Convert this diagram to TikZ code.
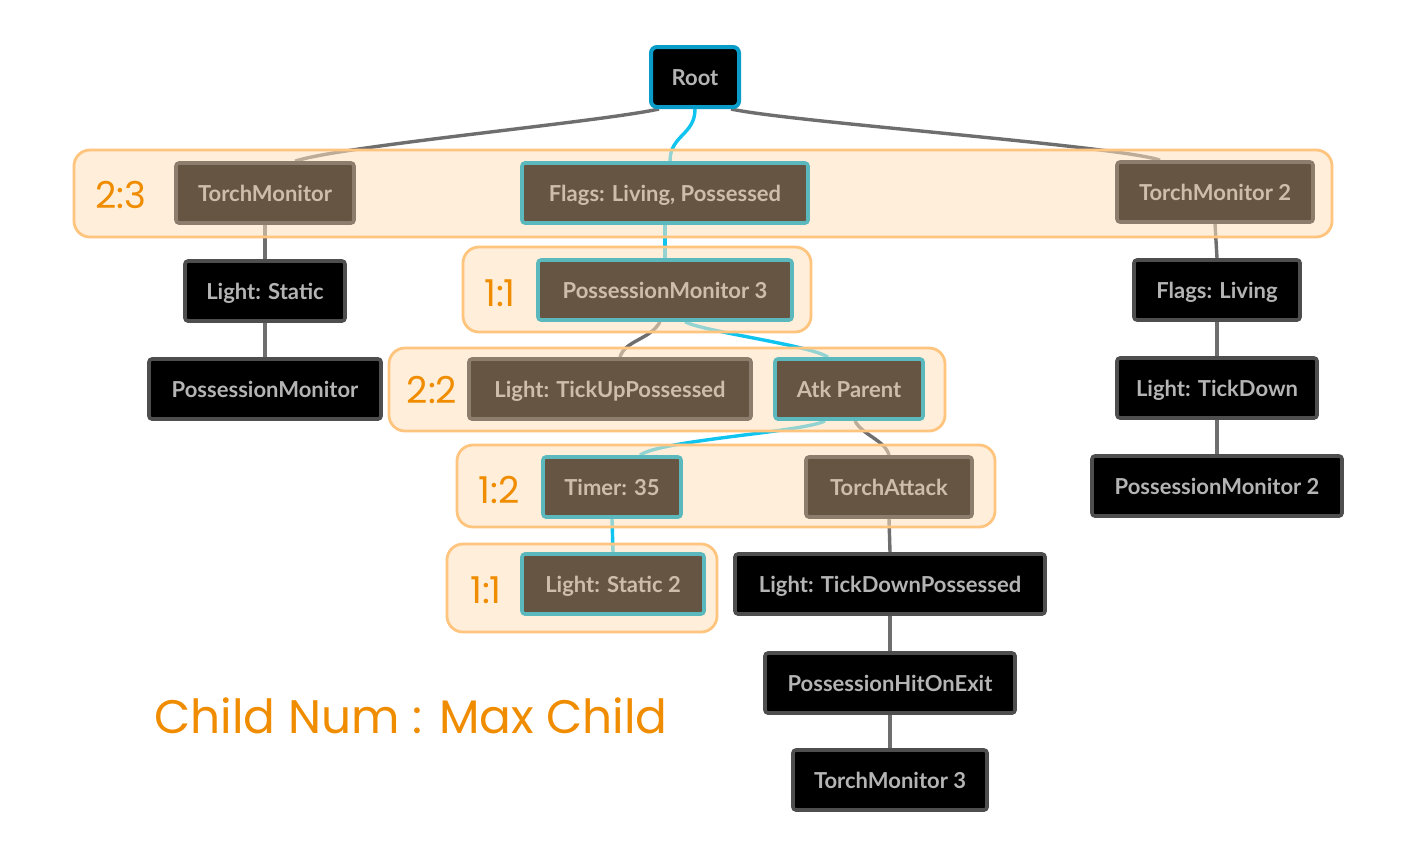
\documentclass[tikz,border=0pt]{standalone}
\usepackage{fontspec}
\setmainfont{Lato}
\newfontfamily\handfont{Poppins}
\usetikzlibrary{calc}
\definecolor{nbrown}{HTML}{665542}
\definecolor{nbrowntxt}{HTML}{CDBDAA}
\definecolor{nbrownedge}{HTML}{8C7D6C}
\definecolor{nteal}{HTML}{5BB9BE}
\definecolor{nroot}{HTML}{0A9CC8}
\definecolor{nblackedge}{HTML}{4E4E4E}
\definecolor{nblacktxt}{HTML}{B4B4B4}
\definecolor{lcyan}{HTML}{10C4F0}
\definecolor{lgray}{HTML}{6E6E6E}
\definecolor{gfill}{HTML}{FFE2BC}
\definecolor{gedge}{HTML}{FFC47E}
\definecolor{gtext}{HTML}{F08C00}
\pgfdeclarelayer{bglayer}
\pgfdeclarelayer{connlayer}
\pgfdeclarelayer{grplayer}
\pgfsetlayers{bglayer,connlayer,grplayer,main}
\tikzset{
  nodebase/.style={rectangle, rounded corners=1.5pt, line width=1.8pt, font=\bfseries\fontsize{11}{13}\selectfont, inner sep=0pt, minimum height=30pt, text height=10pt, text depth=2pt},
  brownbox/.style={nodebase, fill=nbrown, draw=nbrownedge, text=nbrowntxt},
  tealbox/.style={nodebase, fill=nbrown, draw=nteal, text=nbrowntxt},
  blackbox/.style={nodebase, fill=black, draw=nblackedge, text=nblacktxt},
  rootbox/.style={nodebase, fill=black, draw=nroot, text=nblacktxt, line width=2pt, rounded corners=3pt},
  grp/.style={rounded corners=8pt, fill=gfill, draw=gedge, line width=1.4pt, fill opacity=0.55},
  glabel/.style={text=gtext, font=\handfont\fontsize{18.5}{20}\selectfont},
  cl/.style={draw=lcyan, line width=1.7pt},
  gl/.style={draw=lgray, line width=1.7pt},
}
\begin{document}
\begin{tikzpicture}[x=0.5pt, y=-0.5pt]
\begin{pgfonlayer}{bglayer}
\fill[white] (0,0) rectangle (1427,864);
\end{pgfonlayer}
\useasboundingbox (0,0) rectangle (1427,864);
% nodes
\node[rootbox, minimum width=44pt] (root) at (695,77) {Root};
\node[brownbox, minimum width=89pt] (tm) at (265,193) {TorchMonitor};
\node[tealbox, minimum width=143pt] (flags) at (665,193) {Flags: Living, Possessed};
\node[brownbox, minimum width=98pt] (tm2) at (1215,192) {TorchMonitor 2};
\node[blackbox, minimum width=80pt] (ls) at (265,291) {Light: Static};
\node[blackbox, minimum width=116pt] (pm) at (265,389) {PossessionMonitor};
\node[tealbox, minimum width=127pt] (pm3) at (665,290) {PossessionMonitor 3};
\node[brownbox, minimum width=141pt] (ltu) at (610,389) {Light: TickUpPossessed};
\node[tealbox, minimum width=74pt] (atk) at (849,389) {Atk Parent};
\node[tealbox, minimum width=69pt] (timer) at (612,487) {Timer: 35};
\node[brownbox, minimum width=83pt] (ta) at (889,487) {TorchAttack};
\node[tealbox, minimum width=91pt] (ls2) at (613,584) {Light: Static 2};
\node[blackbox, minimum width=155pt] (ltdp) at (890,584) {Light: TickDownPossessed};
\node[blackbox, minimum width=125pt] (phoe) at (890,683) {PossessionHitOnExit};
\node[blackbox, minimum width=97pt] (tm3) at (890,780) {TorchMonitor 3};
\node[blackbox, minimum width=83pt] (fl) at (1217,290) {Flags: Living};
\node[blackbox, minimum width=100pt] (ltd) at (1217,388) {Light: TickDown};
\node[blackbox, minimum width=125pt] (pm2) at (1217,486) {PossessionMonitor 2};
% group labels
\node[glabel] (g1) at (121,195) {2:3};
\node[glabel] (g2) at (500,293) {1:1};
\node[glabel] (g3) at (432,390) {2:2};
\node[glabel] (g4) at (499,490) {1:2};
\node[glabel] (g5) at (486,590) {1:1};
\node[text=gtext, font=\handfont\fontsize{23.5}{26}\selectfont] (legend) at (411,716) {Child Num : Max Child};
% groups
\begin{pgfonlayer}{grplayer}
\draw[grp] (74,150) rectangle (1332,237);
\draw[grp] (463,247) rectangle (811,332);
\draw[grp] (389,348) rectangle (945,431);
\draw[grp] (457,445) rectangle (995,527);
\draw[grp] (447,544) rectangle (717,632);
\end{pgfonlayer}
% connectors
\begin{pgfonlayer}{connlayer}
\draw[gl] ($(root.south west)+(10,0)$) .. controls (600,122) and (340,146) .. ($(tm.north)+(30,0)$);
\draw[gl] ($(root.south east)+(-10,0)$) .. controls (790,122) and (1120,146) .. ($(tm2.north)+(-55,0)$);
\draw[cl] (root.south) .. controls (695,135) and (670,135) .. ($(flags.north)+(5,0)$);
\draw[cl] (flags.south) -- (pm3.north);
\draw[gl] ($(pm3.south)+(-5,0)$) .. controls (650,340) and (625,340) .. ($(ltu.north)+(10,0)$);
\draw[cl] ($(pm3.south)+(20,0)$) .. controls (705,332) and (810,345) .. ($(atk.north)+(-21,0)$);
\draw[cl] ($(atk.south)+(-24,0)$) .. controls (805,432) and (660,440) .. ($(timer.north)+(28,0)$);
\draw[gl] ($(atk.south)+(6,0)$) .. controls (862,435) and (885,440) .. (ta.north);
\draw[cl] (timer.south) -- (ls2.north);
\draw[gl] (tm.south) -- (ls.north);
\draw[gl] (ls.south) -- (pm.north);
\draw[gl] (tm2.south) -- (fl.north);
\draw[gl] (fl.south) -- (ltd.north);
\draw[gl] (ltd.south) -- (pm2.north);
\draw[gl] (ta.south) -- (ltdp.north);
\draw[gl] (ltdp.south) -- (phoe.north);
\draw[gl] (phoe.south) -- (tm3.north);
\end{pgfonlayer}
\end{tikzpicture}
\end{document}
